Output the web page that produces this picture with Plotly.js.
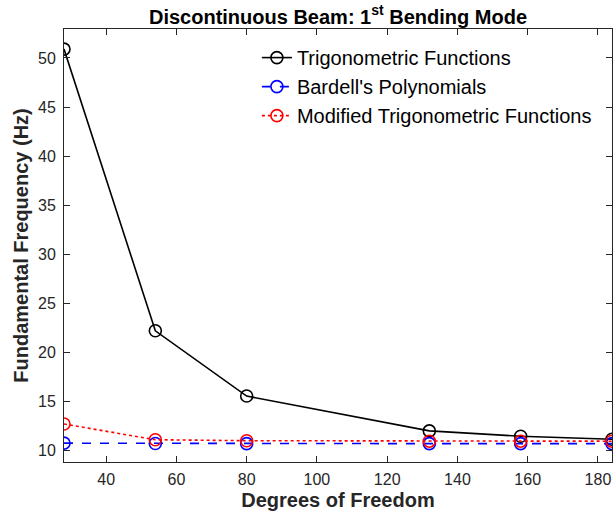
<!DOCTYPE html>
<html>
<head>
<meta charset="utf-8">
<script src="https://cdn.plot.ly/plotly-3.0.1.min.js"></script>
<style>html,body{margin:0;padding:0;background:#fff;}#chart{width:613px;height:525px;}</style>
</head>
<body>
<div id="chart"></div>
<script>
var dof = [28, 54, 80, 132, 158, 184];
var trigFreq = [50.9, 22.2, 15.55, 12.0, 11.45, 11.15];
var bardellFreq = [10.75, 10.72, 10.7, 10.7, 10.7, 10.7];
var modTrigFreq = [12.7, 11.1, 11.0, 10.95, 10.95, 10.95];
var seriesNames = ["Trigonometric Functions", "Bardell's Polynomials", "Modified Trigonometric Functions"];
var xTicks = [40, 60, 80, 100, 120, 140, 160, 180];
var yTicks = [10, 15, 20, 25, 30, 35, 40, 45, 50];

var FONT = "Arial, 'Liberation Sans', sans-serif";
var markerBase = {symbol: 'circle-open', size: 12};

var traces = [
  {x: dof, y: trigFreq, name: seriesNames[0], mode: 'lines+markers',
   line: {color: '#000000', width: 1.6},
   marker: Object.assign({}, markerBase, {color: '#000000', line: {width: 1.6, color: '#000000'}})},
  {x: dof, y: bardellFreq, name: seriesNames[1], mode: 'lines+markers',
   line: {color: '#0000ff', width: 1.6, dash: 'dash'},
   marker: Object.assign({}, markerBase, {color: '#0000ff', line: {width: 1.6, color: '#0000ff'}})},
  {x: dof, y: modTrigFreq, name: seriesNames[2], mode: 'lines+markers',
   line: {color: '#ff0000', width: 1.6, dash: 'dot'},
   marker: Object.assign({}, markerBase, {color: '#ff0000', line: {width: 1.6, color: '#ff0000'}})}
];

var axisCommon = {
  showgrid: false, zeroline: false, showline: true, mirror: 'ticks',
  linecolor: '#262626', linewidth: 1, ticks: 'inside', ticklen: 6,
  tickcolor: '#262626', tickwidth: 1,
  tickfont: {family: FONT, size: 16, color: '#262626'}
};

var layout = {
  width: 613, height: 525,
  margin: {l: 64, r: 1, t: 29, b: 63},
  paper_bgcolor: '#ffffff', plot_bgcolor: '#ffffff',
  showlegend: true,
  title: {text: 'Discontinuous Beam: 1<sup>st</sup> Bending Mode', xref: 'paper', x: 0.5, xanchor: 'center',
          y: 0.968, yanchor: 'middle',
          font: {family: FONT, size: 20, color: '#000000', weight: 'bold'}},
  xaxis: Object.assign({}, axisCommon, {
    range: [28, 184], tickvals: xTicks, ticklabelstandoff: 3,
    title: {text: 'Degrees of Freedom', standoff: 5, font: {family: FONT, size: 20, color: '#262626', weight: 'bold'}}
  }),
  yaxis: Object.assign({}, axisCommon, {
    range: [8.83, 52.95], tickvals: yTicks, ticklabelstandoff: 4,
    title: {text: 'Fundamental Frequency (Hz)', standoff: 4, font: {family: FONT, size: 20, color: '#262626', weight: 'bold'}}
  }),
  legend: {
    x: 0.352, y: 0.979, xanchor: 'left', yanchor: 'top',
    bgcolor: 'rgba(0,0,0,0)', borderwidth: 0,
    font: {family: FONT, size: 20, color: '#000000'},
    tracegroupgap: 0
  }
};

Plotly.newPlot('chart', traces, layout, {displayModeBar: false, staticPlot: true});
</script>
</body>
</html>
